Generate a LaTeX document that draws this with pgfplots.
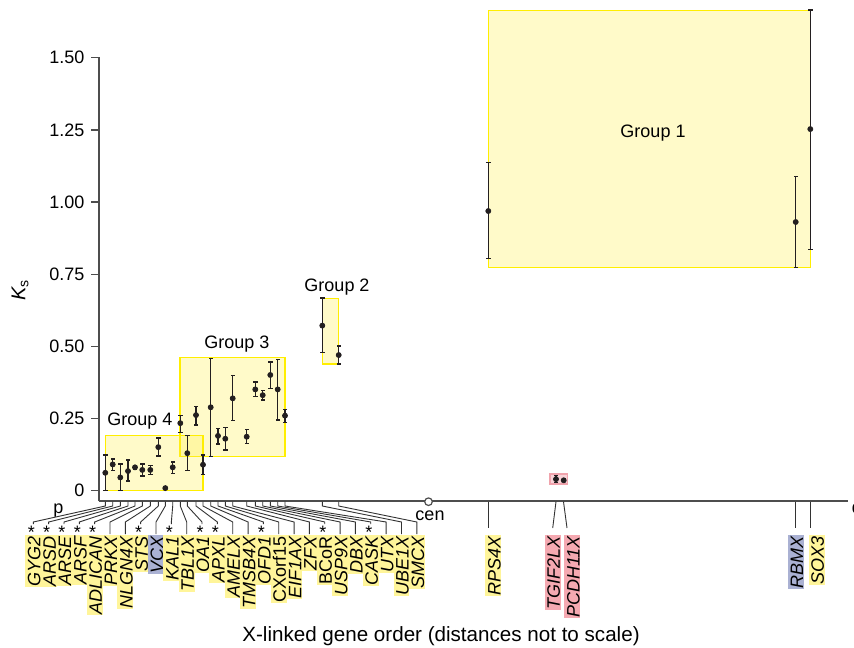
\documentclass[border=0pt]{standalone}
\usepackage{pgfplots}
\pgfplotsset{compat=1.18}
\usepackage{pgfplotstable}
\usepackage{fontspec}
\setmainfont{Liberation Sans}
\definecolor{axgray}{HTML}{4D4D4D}
\definecolor{barblack}{HTML}{231F20}
\definecolor{boxfill}{HTML}{FFF04D}
\definecolor{boxedge}{HTML}{FFEE00}
\definecolor{lblyel}{HTML}{FFF59A}
\definecolor{lblblue}{HTML}{AAB1D3}
\definecolor{lblpink}{HTML}{F5A9B1}
\definecolor{pinkfill}{HTML}{F9D3D8}
\definecolor{pinkedge}{HTML}{F0A3AC}
\newcommand{\lblfont}{\fontsize{9}{10.8}\selectfont}
\newcommand{\xlfont}{\fontsize{10.3}{12}\selectfont}

% Group 4: x = position along the X chromosome, Ks, lower, upper
\pgfplotstableread{
x y lo hi
105.3 0.062 0.000 0.124
112.7 0.091 0.069 0.110
120.3 0.046 0.000 0.093
128.0 0.068 0.033 0.107
135.0 0.081 0.073 0.088
142.3 0.072 0.051 0.093
150.3 0.072 0.057 0.088
158.3 0.151 0.120 0.182
172.7 0.081 0.060 0.099
187.3 0.130 0.069 0.192
203.0 0.090 0.057 0.123
}\gfour
\pgfplotstableread{
x y
165.3 0.009
563.7 0.036
}\nobar
% Group 3
\pgfplotstableread{
x y lo hi
180.3 0.234 0.201 0.260
196.0 0.262 0.228 0.291
210.7 0.289 0.118 0.459
218.0 0.190 0.162 0.216
225.3 0.180 0.141 0.218
232.7 0.320 0.243 0.400
246.7 0.187 0.164 0.213
255.3 0.351 0.326 0.377
262.7 0.331 0.314 0.347
270.3 0.401 0.355 0.446
277.7 0.351 0.245 0.455
285.0 0.260 0.237 0.282
}\gthree
% Group 2
\pgfplotstableread{
x y lo hi
322.3 0.572 0.478 0.667
338.7 0.470 0.439 0.502
}\gtwo
% Group 1
\pgfplotstableread{
x y lo hi
488.3 0.969 0.804 1.138
795.7 0.931 0.773 1.089
810.3 1.253 0.836 1.665
}\gone
% TGIF2LX
\pgfplotstableread{
x y lo hi
556.0 0.040 0.028 0.053
}\gpink

\begin{document}
\begin{tikzpicture}
\begin{axis}[
  at={(49.5pt,73pt)}, anchor=south west,
  x=0.5pt, y=144.3pt,
  xmin=99, xmax=848, ymin=-0.0357, ymax=1.502,
  axis lines*=left,
  clip=false,
  xtick=\empty,
  ytick={0,0.25,0.5,0.75,1,1.25,1.5},
  yticklabels={0,0.25,0.50,0.75,1.00,1.25,1.50},
  yticklabel style={font=\lblfont, text=black},
  tick align=outside,
  major tick length=3.8pt,
  tick style={axgray, line width=0.65pt},
  axis line style={axgray, line width=0.7pt},
  ksbar/.style={only marks, mark=*, mark size=1.25pt, color=barblack,
    error bars/.cd, y dir=both, y explicit,
    error bar style={line width=0.6pt, barblack},
    error mark=none},
  kscap/.style={only marks, mark=-, mark size=1.1pt, color=barblack,
    mark options={line width=0.7pt}},
]
% group boxes
\filldraw[fill=boxfill, fill opacity=0.3, draw=boxedge, line width=0.65pt]
  (axis cs:488.3,0.773) rectangle (axis cs:810.3,1.665);
\filldraw[fill=boxfill, fill opacity=0.3, draw=boxedge, line width=0.65pt]
  (axis cs:322.3,0.439) rectangle (axis cs:338.7,0.667);
\filldraw[fill=boxfill, fill opacity=0.3, draw=boxedge, line width=0.65pt]
  (axis cs:180,0.118) rectangle (axis cs:285,0.462);
\filldraw[fill=boxfill, fill opacity=0.3, draw=boxedge, line width=0.65pt]
  (axis cs:105.3,0) rectangle (axis cs:203,0.192);
\filldraw[fill=pinkfill, draw=pinkedge, line width=0.65pt]
  (axis cs:550,0.023) rectangle (axis cs:567.3,0.058);

\addplot[ksbar] table[x=x, y=y, y error plus expr=\thisrow{hi}-\thisrow{y}, y error minus expr=\thisrow{y}-\thisrow{lo}] {\gfour};
\addplot[kscap] table[x=x, y=hi] {\gfour};
\addplot[kscap] table[x=x, y=lo] {\gfour};
\addplot[ksbar] table[x=x, y=y, y error plus expr=\thisrow{hi}-\thisrow{y}, y error minus expr=\thisrow{y}-\thisrow{lo}] {\gthree};
\addplot[kscap] table[x=x, y=hi] {\gthree};
\addplot[kscap] table[x=x, y=lo] {\gthree};
\addplot[ksbar] table[x=x, y=y, y error plus expr=\thisrow{hi}-\thisrow{y}, y error minus expr=\thisrow{y}-\thisrow{lo}] {\gtwo};
\addplot[kscap] table[x=x, y=hi] {\gtwo};
\addplot[kscap] table[x=x, y=lo] {\gtwo};
\addplot[ksbar] table[x=x, y=y, y error plus expr=\thisrow{hi}-\thisrow{y}, y error minus expr=\thisrow{y}-\thisrow{lo}] {\gone};
\addplot[kscap] table[x=x, y=hi] {\gone};
\addplot[kscap] table[x=x, y=lo] {\gone};
\addplot[ksbar] table[x=x, y=y, y error plus expr=\thisrow{hi}-\thisrow{y}, y error minus expr=\thisrow{y}-\thisrow{lo}] {\gpink};
\addplot[kscap] table[x=x, y=hi] {\gpink};
\addplot[kscap] table[x=x, y=lo] {\gpink};
\addplot[only marks, mark=*, mark size=1.25pt, color=barblack] table[x=x, y=y] {\nobar};

\node[font=\lblfont] at (axis cs:653,1.239) {Group 1};
\node[font=\lblfont] at (axis cs:337,0.706) {Group 2};
\node[font=\lblfont] at (axis cs:237,0.508) {Group 3};
\node[font=\lblfont] at (axis cs:140,0.2415) {Group 4};
\end{axis}

\begin{scope}[x=0.5pt, y=-0.5pt, yshift=323.5pt,
  conn/.style={draw=black!80, line width=0.45pt},
  rotlbl/.style={rotate=90, anchor=east, inner sep=0.35pt, text height=0.72em, text depth=0pt, font=\lblfont\itshape}]
\foreach \i/\ax/\name/\st/\col in {
0/105.3/GYG2/1/lblyel,
1/112.7/ARSD/1/lblyel,
2/120.3/ARSE/1/lblyel,
3/128.0/ARSF/1/lblyel,
4/135.0/ADLICAN/1/lblyel,
5/142.3/PRKX/0/lblyel,
6/150.3/NLGN4X/0/lblyel,
7/158.3/STS/1/lblyel,
8/165.3/VCX/0/lblblue,
9/172.7/KAL1/1/lblyel,
10/180.3/TBL1X/0/lblyel,
11/187.3/OA1/1/lblyel,
12/196.0/APXL/1/lblyel,
13/203.0/AMELX/0/lblyel,
14/210.7/TMSB4X/0/lblyel,
15/218.0/OFD1/1/lblyel,
16/225.3/{\upshape CXorf15}/0/lblyel,
17/232.7/EIF1AX/0/lblyel,
18/246.7/ZFX/0/lblyel,
19/255.3/{\upshape BCoR}/1/lblyel,
20/262.7/USP9X/0/lblyel,
21/270.3/DBX/0/lblyel,
22/277.7/CASK/1/lblyel,
23/285.0/UTX/0/lblyel,
24/322.3/UBE1X/0/lblyel,
25/338.7/SMCX/0/lblyel}
{
  \pgfmathsetmacro{\lx}{33.3+15.34*\i}
  \ifnum\st=1 \def\yend{524}\else\def\yend{534}\fi
  \draw[conn] (\ax,501.7) -- (\ax,506) -- (\lx,522) -- (\lx,\yend);
  \ifnum\st=1 \node[inner sep=0, anchor=north, font=\lblfont] at (\lx-2,525.5) {*};\fi
  \node[rotlbl, fill=\col] at (\lx,535) {\name};
}
\draw[conn] (488.7,501.7) -- (488.7,528);
\node[rotlbl, fill=lblyel] at (493.3,535) {RPS4X};
\draw[conn] (556,501.7) -- (552.7,528);
\node[rotlbl, fill=lblpink] at (552.7,535) {TGIF2LX};
\draw[conn] (563.5,501.7) -- (567,528);
\node[rotlbl, fill=lblpink] at (572.3,535) {PCDH11X};
\draw[conn] (795.7,501.7) -- (795.7,528);
\node[rotlbl, fill=lblblue] at (795.8,535) {RBMX};
\draw[conn] (810.3,501.7) -- (810.3,528);
\node[rotlbl, fill=lblyel] at (816.7,535) {SOX3};

\node[font=\lblfont, anchor=base west, inner sep=0] at (53,513.3) {p};
\node[font=\lblfont, anchor=base, inner sep=0] at (430,520) {cen};
\node[font=\lblfont, anchor=base west, inner sep=0] at (851.5,513.3) {q};
\draw[axgray, line width=0.6pt, fill=white] (428.5,501.7) circle[radius=1.9pt];
\node[font=\xlfont] at (441,636) {X-linked gene order (distances not to scale)};
\node[font=\fontsize{10}{12}\selectfont, rotate=90, inner sep=0] at (20,290) {{\itshape K}\textsubscript{s}};
\end{scope}
\pgfresetboundingbox
\useasboundingbox (0,0) rectangle (427pt,323.5pt);
\end{tikzpicture}
\end{document}
